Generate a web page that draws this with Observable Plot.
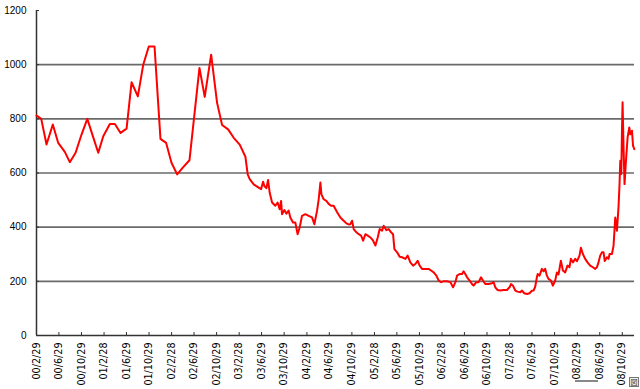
<!DOCTYPE html>
<html>
<head>
<meta charset="utf-8">
<script src="https://cdn.jsdelivr.net/npm/d3@7"></script>
<script src="https://cdn.jsdelivr.net/npm/@observablehq/plot@0.6"></script>
<style>
  html, body { margin: 0; padding: 0; background: #fff; }
  #wrap { position: relative; width: 640px; height: 389px; overflow: hidden; }
  #icon { position: absolute; left: 629px; top: 377px; width: 8px; height: 8px; border: 1px solid #777;
          font: 7px "Noto Sans CJK JP", sans-serif; line-height: 8px; text-align: center; color: #333; background: #eee; }
  #uline { position: absolute; left: 575px; top: 380px; width: 23px; height: 2px; background: #888; }
</style>
</head>
<body>
<div id="wrap"></div>
<script>
// decimal-year dates and values
const dates = [
  2000.162,2000.231,2000.309,2000.402,2000.482,2000.579,2000.653,2000.738,2000.826,2000.911,2000.993,
  2001.073,2001.147,2001.245,2001.319,2001.403,2001.492,2001.566,2001.659,2001.739,2001.821,2001.906,2001.994,
  2002.078,2002.157,2002.241,2002.324,2002.423,2002.571,2002.649,2002.744,2002.832,2002.906,2002.995,
  2003.078,2003.167,
  2003.251,2003.285,2003.315,2003.374,2003.447,2003.483,2003.513,2003.532,2003.561,2003.587,2003.610,2003.646,
  2003.694,2003.728,2003.758,2003.779,2003.793,2003.828,2003.857,2003.891,2003.916,2003.956,2003.990,
  2004.024,2004.054,2004.089,2004.138,2004.187,2004.237,2004.271,2004.311,2004.335,2004.360,2004.375,2004.409,
  2004.448,2004.482,2004.518,2004.556,2004.607,2004.655,2004.704,2004.744,2004.778,2004.803,2004.828,2004.852,
  2004.892,2004.926,2004.961,2004.991,
  2005.025,2005.059,2005.099,2005.139,2005.173,2005.207,2005.236,2005.272,2005.295,2005.335,2005.369,2005.405,
  2005.434,2005.454,2005.494,2005.532,2005.567,2005.616,2005.650,2005.690,2005.730,2005.764,2005.798,2005.828,
  2005.863,2005.912,2005.961,2005.996,
  2006.035,2006.075,2006.109,2006.144,2006.182,2006.233,2006.282,2006.322,2006.356,2006.381,2006.419,2006.455,
  2006.478,2006.503,2006.529,2006.567,2006.602,2006.626,2006.666,2006.700,2006.736,2006.765,2006.799,2006.848,
  2006.898,2006.922,2006.947,2006.981,
  2007.021,2007.070,2007.120,2007.158,2007.179,2007.209,2007.243,2007.277,2007.317,2007.342,2007.376,2007.416,
  2007.454,2007.489,2007.513,2007.538,2007.563,2007.575,2007.602,2007.637,2007.661,2007.686,2007.711,2007.735,
  2007.770,2007.800,2007.834,2007.859,2007.883,2007.918,2007.948,2007.982,
  2008.016,2008.045,2008.066,2008.096,2008.130,2008.155,2008.193,2008.214,2008.243,2008.277,2008.311,2008.351,
  2008.391,2008.425,2008.450,2008.474,2008.499,2008.524,2008.548,2008.566,2008.598,2008.622,2008.637,2008.672,
  2008.696,2008.721,2008.746,2008.770,2008.784,2008.795,2008.810,2008.820,2008.829,2008.844,2008.858,2008.879,
  2008.903,2008.928,2008.943,2008.968,2008.983,2009.002
];
const values = [
  812,800,705,779,711,678,640,675,742,800,736,
  675,736,781,781,748,764,935,883,1000,1067,1067,726,
  711,638,595,620,647,988,881,1037,859,777,761,
  730,705,
  660,595,577,558,546,540,568,552,544,574,528,491,
  479,491,466,497,448,463,450,461,436,417,417,
  374,399,442,448,442,436,411,461,503,565,521,503,
  497,486,479,479,455,436,424,414,410,411,424,393,
  381,374,369,350,
  374,369,362,350,332,362,393,387,405,389,393,381,
  374,319,307,291,289,283,295,270,258,264,276,258,
  246,246,246,240,
  233,221,203,197,200,200,197,178,197,221,227,227,
  237,227,215,203,190,184,197,197,215,203,190,190,
  193,197,178,168,
  166,168,168,178,190,184,166,162,160,166,156,153,
  156,165,166,180,215,227,221,246,237,246,221,209,
  203,184,203,233,225,276,240,233,
  258,252,283,270,283,274,295,324,301,283,270,258,
  252,246,252,270,295,307,307,275,289,283,301,301,
  332,436,387,479,559,645,596,756,861,688,559,645,
  731,768,743,756,701,688
];
const tickYears = [2000,2001,2002,2003,2004,2005,2006,2007,2008];
const tickMonths = [2,6,10];
const yTicks = [0,200,400,600,800,1000,1200];
const gridValues = [200,400,600,800,1000];

if (dates.length !== values.length) throw new Error("length mismatch " + dates.length + " vs " + values.length);

function fromDec(t) {
  const y = Math.floor(t);
  const s = Date.UTC(y, 0, 1), e = Date.UTC(y + 1, 0, 1);
  return new Date(s + (t - y) * (e - s));
}
const data = dates.map((t, i) => ({date: fromDec(t), value: values[i]}));

const tickDates = [];
for (const y of tickYears) for (const m of tickMonths) {
  const leap = (y % 4 === 0 && y % 100 !== 0) || y % 400 === 0;
  const d = m === 2 ? (leap ? 29 : 28) : 29;
  tickDates.push(new Date(Date.UTC(y, m - 1, d)));
}
const fmt = d => `${String(d.getUTCFullYear() % 100).padStart(2, "0")}/${d.getUTCMonth() + 1}/${d.getUTCDate()}`;

const xStart = tickDates[0];
const xEnd = fromDec(2009.005);

const chart = Plot.plot({
  width: 640,
  height: 389,
  marginLeft: 36,
  marginRight: 6,
  marginTop: 10,
  marginBottom: 54,
  style: {background: "#fff", color: "#000", fontFamily: "DejaVu Sans", fontSize: "10px"},
  x: {type: "utc", domain: [xStart, xEnd]},
  y: {domain: [0, 1200]},
  marks: [
    Plot.ruleY(gridValues, {stroke: "#6a6a6a", strokeWidth: 1.6}),
    Plot.ruleY([0], {stroke: "#333", strokeWidth: 1.5}),
    Plot.ruleX([xStart], {y1: 0, y2: 1200, stroke: "#333", strokeWidth: 1.5}),
    Plot.axisY({ticks: yTicks, tickFormat: d => String(d), tickSize: 3, dx: 3, tickPadding: 10, fontFamily: "Liberation Sans", fontSize: 10, label: null, stroke: "#333"}),
    Plot.axisX({ticks: tickDates, tickFormat: fmt, tickRotate: -90, tickSize: 3, dy: -3, tickPadding: 7, fontSize: 9.6, label: null, stroke: "#333"}),
    Plot.line(data, {x: "date", y: "value", stroke: "#ff0000", strokeWidth: 2})
  ]
});
const wrap = document.getElementById("wrap");
wrap.appendChild(chart);
const ul = document.createElement("div"); ul.id = "uline"; wrap.appendChild(ul);
const ic = document.createElement("div"); ic.id = "icon"; ic.textContent = "図"; wrap.appendChild(ic);
</script>
</body>
</html>
